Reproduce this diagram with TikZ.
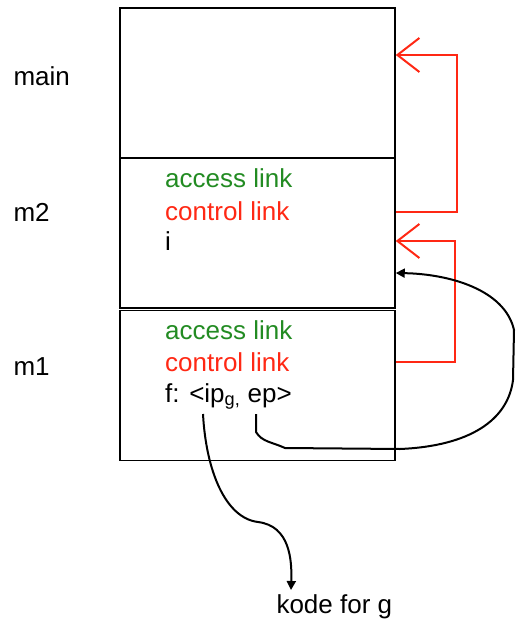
\documentclass[tikz,border=0pt]{standalone}
\usepackage{fontspec}
\setmainfont{Liberation Sans}
\usetikzlibrary{arrows.meta}

\definecolor{linkgreen}{RGB}{34,139,34}
\definecolor{linkred}{RGB}{255,40,20}

\tikzset{
    frame/.style={draw, line width=1.5pt, minimum width=275pt, minimum height=150pt, inner sep=0pt},
    entry/.style={anchor=base west, inner sep=0pt},
    ctlarrow/.style={draw=linkred, line width=2pt, -{Straight Barb[length=22pt, width=34pt, line width=2pt]}},
    ptrarrow/.style={line width=2pt, -{Triangle[length=9pt, width=9pt]}}
}

\begin{document}
\begin{tikzpicture}[x=1pt, y=-1pt, font=\fontsize{26}{30}\selectfont]
    \useasboundingbox (0,0) rectangle (517,620);

    % the three frames on the stack
    \node[frame] (main) at (257.5,83) {};
    \node[frame] (m2) at (257.5,233) {};
    \node[frame] (m1) at (257.5,385.5) {};

    \node[anchor=west] (lmain) at (10,76) {main};
    \node[anchor=west] (lm2) at (10,212) {m2};
    \node[anchor=west] (lm1) at (10,367) {m1};

    % contents of m2
    \node[entry, text=linkgreen] (acc2) at (165,188) {access link};
    \node[entry, text=linkred] (ctl2) at (165,220) {control link};
    \node[entry] (var2) at (165,250) {i};

    % contents of m1
    \node[entry, text=linkgreen] (acc1) at (165,339) {access link};
    \node[entry, text=linkred] (ctl1) at (165,371) {control link};
    \node[entry] (clo1) at (165,402) {f: <ip\textsubscript{g,} ep>};

    \node[anchor=base west] (code) at (273,613) {kode for g};

    \coordinate (ip) at (203,414);
    \coordinate (ep) at (256,414);

    % control links
    \draw[ctlarrow] (m2.east |- 0,212) -- (457,212) -- (457,55) -- (main.east |- 0,55);
    \draw[ctlarrow] (m1.east |- 0,362) -- (455,362) -- (455,241) -- (m2.east |- 0,241);

    % closure pointers
    \draw[ptrarrow] (ep) -- (256,432) .. controls (262,442) and (272,442) .. (285,448)
        -- (400,449) .. controls (470,446) and (508,420) .. (513,380)
        -- (514,330) .. controls (505,290) and (450,274) .. (m2.east |- 0,273);
    \draw[ptrarrow] (ip) .. controls (206,470) and (225,518) .. (258,522)
        .. controls (290,526) and (292,560) .. (291,590);
\end{tikzpicture}
\end{document}
